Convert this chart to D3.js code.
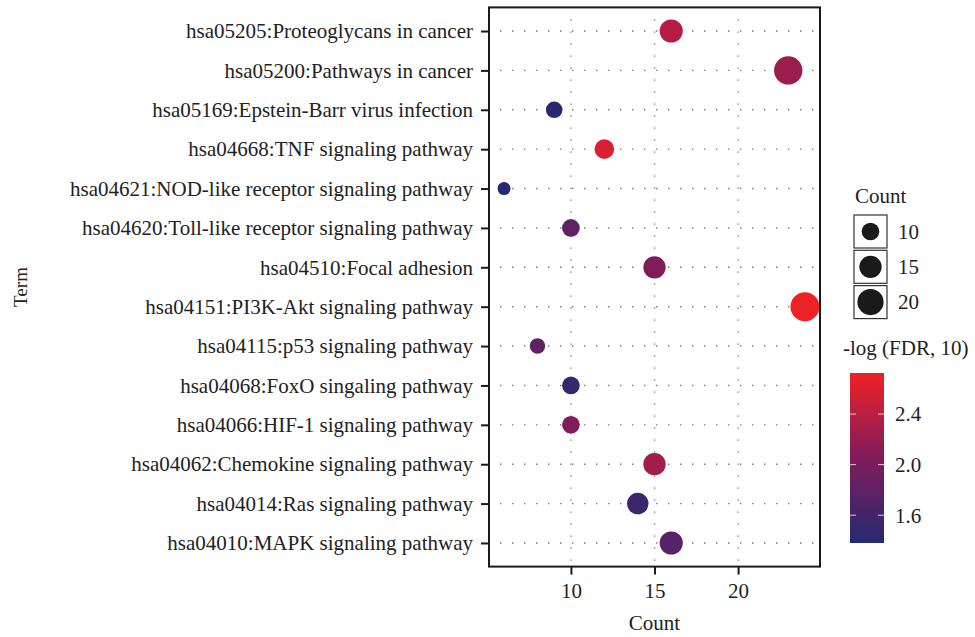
<!DOCTYPE html>
<html>
<head>
<meta charset="utf-8">
<script src="https://cdn.jsdelivr.net/npm/d3@7"></script>
<style>
  body { margin: 0; background: #fff; }
</style>
</head>
<body>
<div id="vizcontainer"></div>
<script>
// KEGG terms, top to bottom as drawn
const terms = [
  'hsa05205:Proteoglycans in cancer',
  'hsa05200:Pathways in cancer',
  'hsa05169:Epstein-Barr virus infection',
  'hsa04668:TNF signaling pathway',
  'hsa04621:NOD-like receptor signaling pathway',
  'hsa04620:Toll-like receptor signaling pathway',
  'hsa04510:Focal adhesion',
  'hsa04151:PI3K-Akt signaling pathway',
  'hsa04115:p53 signaling pathway',
  'hsa04068:FoxO singaling pathway',
  'hsa04066:HIF-1 signaling pathway',
  'hsa04062:Chemokine signaling pathway',
  'hsa04014:Ras signaling pathway',
  'hsa04010:MAPK signaling pathway'
];
const counts = [16, 23, 9, 12, 6, 10, 15, 24, 8, 10, 10, 15, 14, 16];
const logFdr = [2.37, 2.22, 1.39, 2.59, 1.38, 1.80, 2.06, 2.725, 1.80, 1.49, 2.06, 2.25, 1.53, 1.73];

const xTicks = [10, 15, 20];
const colorTicks = [1.6, 2.0, 2.4];
const sizeBreaks = [10, 15, 20];

const
  W = 975, H = 637,
  panel = { left: 489, right: 820, top: 7.4, bottom: 566.6 },
  font = '"Liberation Serif", "DejaVu Serif", serif',
  fs = '21px',
  gradCols = ['#262a70', '#801c5c', '#ee2125'], // low, middle, high
  textCol = '#222'
  ;

const svg = d3.select('#vizcontainer')
  .append('svg')
  .attr('width', W)
  .attr('height', H)
  .attr('font-family', font);

const x = d3.scaleLinear()
  .domain([5.1, 24.9])
  .range([panel.left, panel.right]);

const y = d3.scalePoint()
  .domain(terms)
  .range([panel.top, panel.bottom])
  .padding(0.6);

const r = d3.scaleSqrt()
  .domain(d3.extent(counts))
  .range([6.5, 14.5]);

const [fmin, fmax] = d3.extent(logFdr);
const color = d3.scaleLinear()
  .domain([fmin, fmin + 0.5 * (fmax - fmin), fmax])
  .range(gradCols);

const data = terms.map((t, i) => ({ term: t, count: counts[i], fdr: logFdr[i] }));

// dotted grid
const grid = svg.append('g')
  .attr('stroke', '#7a7a7a')
  .attr('stroke-width', 1.4)
  .attr('stroke-dasharray', '1.4 10.6');

grid.selectAll('.hgrid')
  .data(terms)
  .join('line')
  .attr('x1', panel.left + 11)
  .attr('x2', panel.right)
  .attr('y1', d => y(d))
  .attr('y2', d => y(d));

grid.selectAll('.vgrid')
  .data(xTicks)
  .join('line')
  .attr('x1', d => x(d))
  .attr('x2', d => x(d))
  .attr('y1', panel.top + 12)
  .attr('y2', panel.bottom);

// points
svg.append('g')
  .selectAll('circle')
  .data(data)
  .join('circle')
  .attr('cx', d => x(d.count))
  .attr('cy', d => y(d.term))
  .attr('r', d => r(d.count))
  .attr('fill', d => color(d.fdr));

// panel border
svg.append('rect')
  .attr('x', panel.left)
  .attr('y', panel.top)
  .attr('width', panel.right - panel.left)
  .attr('height', panel.bottom - panel.top)
  .attr('fill', 'none')
  .attr('stroke', '#1a1a1a')
  .attr('stroke-width', 2);

// axes
const yAxis = svg.append('g')
  .attr('transform', `translate(${panel.left},0)`)
  .call(d3.axisLeft(y).tickSize(8).tickPadding(8));

const xAxis = svg.append('g')
  .attr('transform', `translate(0,${panel.bottom})`)
  .call(d3.axisBottom(x).tickValues(xTicks).tickSize(8).tickPadding(8));

[yAxis, xAxis].forEach(a => {
  a.select('.domain').remove();
  a.selectAll('.tick line').attr('stroke', '#1a1a1a').attr('stroke-width', 2);
  a.selectAll('text')
    .attr('font-family', font)
    .attr('font-size', fs)
    .attr('fill', textCol);
});

// axis titles
svg.append('text')
  .text('Count')
  .attr('x', (panel.left + panel.right) / 2)
  .attr('y', 630)
  .attr('text-anchor', 'middle')
  .attr('font-size', fs)
  .attr('fill', textCol);

svg.append('text')
  .text('Term')
  .attr('transform', `translate(27,${(panel.top + panel.bottom) / 2}) rotate(-90)`)
  .attr('text-anchor', 'middle')
  .attr('font-size', '19px')
  .attr('fill', textCol);

// size legend
svg.append('text')
  .text('Count')
  .attr('x', 855)
  .attr('y', 203)
  .attr('font-size', fs)
  .attr('fill', textCol);

const keys = svg.append('g')
  .selectAll('g')
  .data(sizeBreaks)
  .join('g')
  .attr('transform', (d, i) => `translate(854,${215 + i * 35.3})`);

keys.append('rect')
  .attr('width', 33)
  .attr('height', 33)
  .attr('fill', '#fff')
  .attr('stroke', '#333')
  .attr('stroke-width', 1.2);

keys.append('circle')
  .attr('cx', 16.5)
  .attr('cy', 16.5)
  .attr('r', d => r(d))
  .attr('fill', '#1a1a1a');

keys.append('text')
  .text(d => d)
  .attr('x', 44)
  .attr('y', 16.5)
  .attr('dy', '0.35em')
  .attr('font-size', fs)
  .attr('fill', textCol);

// colour bar
svg.append('text')
  .text('-log (FDR, 10)')
  .attr('x', 843)
  .attr('y', 355)
  .attr('font-size', fs)
  .attr('fill', textCol);

const bar = { x: 850, y: 373, w: 34, h: 170 };
const cbar = d3.scaleLinear()
  .domain([fmin, fmax])
  .range([bar.y + bar.h, bar.y]);

const grad = svg.append('defs')
  .append('linearGradient')
  .attr('id', 'fdrgrad')
  .attr('x1', 0).attr('y1', 1).attr('x2', 0).attr('y2', 0);

grad.selectAll('stop')
  .data(d3.range(0, 1.0001, 0.05))
  .join('stop')
  .attr('offset', d => d)
  .attr('stop-color', d => color(fmin + d * (fmax - fmin)));

svg.append('rect')
  .attr('x', bar.x)
  .attr('y', bar.y)
  .attr('width', bar.w)
  .attr('height', bar.h)
  .attr('fill', 'url(#fdrgrad)');

const cticks = svg.append('g')
  .selectAll('g')
  .data(colorTicks)
  .join('g')
  .attr('transform', d => `translate(0,${cbar(d)})`);

cticks.append('line')
  .attr('x1', bar.x).attr('x2', bar.x + 6)
  .attr('stroke', '#e8c8d0').attr('stroke-width', 1);
cticks.append('line')
  .attr('x1', bar.x + bar.w - 6).attr('x2', bar.x + bar.w)
  .attr('stroke', '#e8c8d0').attr('stroke-width', 1);

cticks.append('text')
  .text(d => d.toFixed(1))
  .attr('x', 895)
  .attr('dy', '0.35em')
  .attr('font-size', fs)
  .attr('fill', textCol);
</script>
</body>
</html>
